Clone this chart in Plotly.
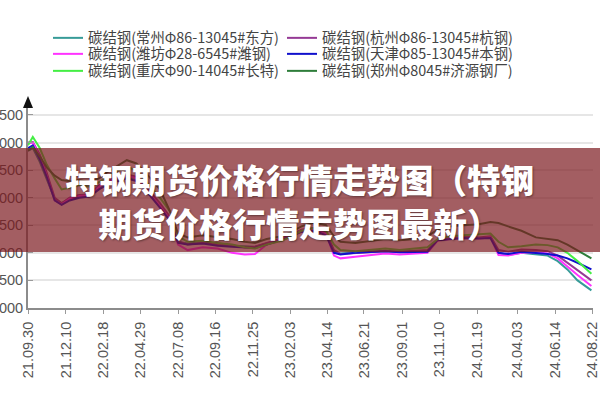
import plotly.graph_objects as go

# ---- data ----
dates = [
    "2021-09-30", "2021-10-09", "2021-10-22", "2021-11-04", "2021-11-19", "2021-12-02",
    "2021-12-17", "2022-01-04", "2022-01-23", "2022-02-10", "2022-02-28", "2022-03-19",
    "2022-04-03", "2022-04-21", "2022-05-13", "2022-06-04", "2022-06-23", "2022-07-08",
    "2022-07-26", "2022-08-23", "2022-09-20", "2022-10-17", "2022-11-10", "2022-11-29",
    "2022-12-21", "2023-01-18", "2023-02-05", "2023-02-24", "2023-03-20", "2023-04-11",
    "2023-04-26", "2023-05-08", "2023-06-05", "2023-07-03", "2023-07-31", "2023-08-27",
    "2023-09-24", "2023-10-18", "2023-11-06", "2023-11-28", "2023-12-25", "2024-01-22",
    "2024-02-13", "2024-02-28", "2024-03-17", "2024-04-11", "2024-05-08", "2024-05-30",
    "2024-06-18", "2024-07-06", "2024-07-25", "2024-08-20",
]

changzhou = [5850, 5900, 5650, 5350, 4980, 4900, 4980, 5020, 5040, 5180,
             5280, 5330, 5380, 5330, 5100, 4850, 4600, 4200, 4170, 4190,
             4160, 4130, 4120, 4110, 4170, 4240, 4310, 4400, 4420, 4340,
             4020, 3990, 4010, 4030, 4040, 4020, 4030, 4040, 4240, 4260,
             4280, 4270, 4280, 4000, 3960, 4000, 3980, 3950, 3850, 3700,
             3500, 3320]
hangzhou = [6000, 6010, 5780, 5450, 5000, 4900, 5000, 5050, 5060, 5220,
            5320, 5370, 5420, 5380, 5150, 4900, 4650, 4200, 4150, 4180,
            4150, 4120, 4100, 4110, 4180, 4260, 4320, 4420, 4450, 4380,
            4050, 3980, 4000, 4020, 4030, 4020, 4030, 4050, 4240, 4270,
            4290, 4280, 4300, 4050, 4020, 4060, 4050, 4030, 3950, 3820,
            3680, 3500]
weifang = [5980, 6000, 5750, 5400, 4950, 4880, 4980, 5030, 5040, 5200,
           5300, 5350, 5400, 5350, 5100, 4850, 4600, 4150, 4050, 4100,
           4080, 4000, 3970, 3980, 4150, 4250, 4300, 4400, 4420, 4350,
           3950, 3900, 3930, 3960, 3990, 3970, 3980, 4000, 4220, 4250,
           4270, 4260, 4280, 3960, 3950, 4000, 4010, 3990, 3900, 3750,
           3600, 3400]
tianjin = [5900, 5950, 5700, 5380, 4950, 4870, 4950, 5000, 5020, 5150,
           5250, 5300, 5350, 5300, 5080, 4820, 4580, 4180, 4150, 4170,
           4130, 4110, 4100, 4090, 4150, 4230, 4300, 4380, 4400, 4320,
           4000, 3970, 4000, 4020, 4030, 4010, 4020, 4020, 4230, 4250,
           4270, 4260, 4270, 4000, 3980, 4020, 4000, 3980, 3950, 3900,
           3820, 3700]
chongqing = [5950, 6100, 5900, 5600, 5350, 5150, 5180, 5230, 5200, 5280,
             5400, 5500, 5550, 5500, 5250, 5000, 4750, 4300, 4200, 4220,
             4180, 4150, 4100, 4080, 4150, 4220, 4300, 4400, 4450, 4400,
             4150, 4050, 4030, 4060, 4080, 4050, 4070, 4100, 4250, 4300,
             4320, 4330, 4350, 4200, 4100, 4120, 4150, 4140, 4100, 4000,
             3850, 3620]
zhengzhou = [5850, 5920, 5750, 5550, 5400, 5320, 5300, 5320, 5280, 5350,
             5480, 5600, 5680, 5620, 5400, 5150, 4750, 4350, 4280, 4320,
             4280, 4250, 4200, 4180, 4250, 4300, 4380, 4480, 4550, 4500,
             4300, 4200, 4180, 4220, 4250, 4230, 4250, 4300, 4420, 4480,
             4500, 4520, 4560, 4540, 4480, 4400, 4280, 4250, 4230, 4150,
             4050, 3900]

series_names = [
    "碳结钢(常州Φ86-13045#东方)", "碳结钢(杭州Φ86-13045#杭钢)",
    "碳结钢(潍坊Φ28-6545#潍钢)", "碳结钢(天津Φ85-13045#本钢)",
    "碳结钢(重庆Φ90-14045#长特)", "碳结钢(郑州Φ8045#济源钢厂)",
]
series_values = [changzhou, hangzhou, weifang, tianjin, chongqing, zhengzhou]
series_colors = ["#379b98", "#953a95", "#ff33ff", "#1010cc", "#44ee44", "#2e7d3a"]
series_legend = ["legend", "legend", "legend2", "legend2", "legend3", "legend3"]

x_tick_labels = ["21.09.30", "21.12.10", "22.02.18", "22.04.29", "22.07.08", "22.09.16",
                 "22.11.25", "23.02.03", "23.04.14", "23.06.21", "23.09.01", "23.11.10",
                 "24.01.19", "24.04.03", "24.06.14", "24.08.22"]
y_tick_values = [3000, 3500, 4000, 4500, 5000, 5500, 6000, 6500]

banner_text = "特钢期货价格行情走势图（特钢<br>期货价格行情走势图最新）"

# ---- figure ----
W, H = 600, 400
ML, MR, MT, MB = 28, 7, 108, 92
PW = W - ML - MR
PH = H - MT - MB

def px_x(x):
    return (x - ML) / PW

def px_y(y):
    return (H - MB - y) / PH

x_tick_vals = ["20" + s[0:2] + "-" + s[3:5] + "-" + s[6:8] for s in x_tick_labels]

fig = go.Figure()
for name, vals, col, lg in zip(series_names, series_values, series_colors, series_legend):
    fig.add_trace(go.Scatter(x=dates, y=vals, mode="lines", name=name, legend=lg,
                             line=dict(color=col, width=2)))

legend_font = dict(family="Noto Sans CJK SC", size=14.4, color="#444")

def legend_row(top_px):
    return dict(orientation="h", x=px_x(48), y=px_y(top_px), xanchor="left", yanchor="top",
                entrywidth=189, entrywidthmode="pixels", font=legend_font,
                bgcolor="rgba(0,0,0,0)", borderwidth=0)

fig.update_layout(
    width=W, height=H,
    margin=dict(l=ML, r=MR, t=MT, b=MB),
    paper_bgcolor="white", plot_bgcolor="white",
    font=dict(family="Arial, Liberation Sans, sans-serif", color="#555"),
    showlegend=True,
    legend=legend_row(22),
    legend2=legend_row(38),
    legend3=legend_row(55),
    xaxis=dict(
        type="date", range=["2021-09-30", "2024-08-23"],
        tickmode="array", tickvals=x_tick_vals, ticktext=x_tick_labels,
        tickangle=-90, tickfont=dict(size=14.5, color="#555"),
        showline=True, linecolor="#8c8c8c", linewidth=2,
        ticks="outside", ticklen=4, tickcolor="#9a9a9a", ticklabelstandoff=2,
        ticklabeloverflow="allow",
        showgrid=False, zeroline=False, automargin=False,
    ),
    yaxis=dict(
        range=[3000, 6626], tickmode="array", tickvals=y_tick_values,
        tickfont=dict(size=14.5, color="#555"),
        showline=True, linecolor="#8c8c8c", linewidth=2,
        ticks="inside", ticklen=5, tickcolor="#9a9a9a",
        ticklabeloverflow="allow",
        showgrid=True, gridcolor="#e6e6e6", gridwidth=2,
        zeroline=False, automargin=False,
    ),
)

# arrow head on top of the y axis
ax0 = px_x(28)
dx = 5 / PW
fig.add_shape(type="path", xref="paper", yref="paper",
              path=f"M {ax0 - dx} {px_y(108)} L {ax0} {px_y(96)} L {ax0 + dx} {px_y(108)} Z",
              fillcolor="#111", line=dict(width=0), layer="above")

# dark red banner across the picture
fig.add_shape(type="rect", xref="paper", yref="paper",
              x0=px_x(0), x1=px_x(600), y0=px_y(252), y1=px_y(148),
              fillcolor="rgba(124,26,32,0.7)", line=dict(width=0), layer="above")

fig.add_annotation(
    text=banner_text, xref="paper", yref="paper",
    x=px_x(299), y=px_y(200), xanchor="center", yanchor="middle",
    showarrow=False, align="center",
    font=dict(family="Noto Sans CJK SC", size=33.5, color="white", weight=900,
              shadow="1px 1px 2px rgba(0,0,0,0.4)"),
)

# remove the browser's default page margin so the figure sits at the window's corner
fig.write_html("out.html", config={"displayModeBar": False},
               post_script="document.body.style.margin='0';")
